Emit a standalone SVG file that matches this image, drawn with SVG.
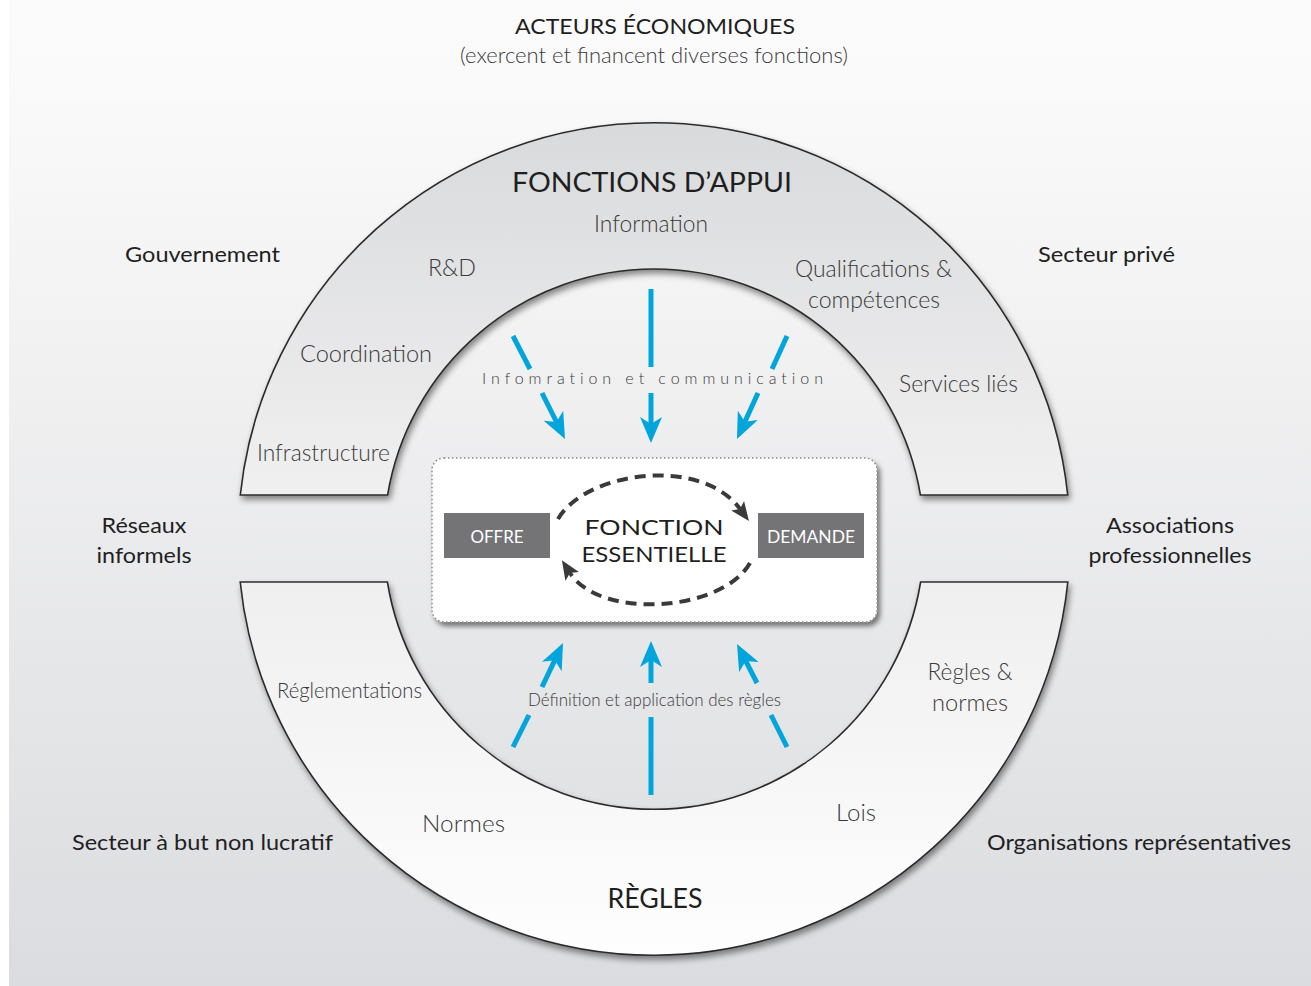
<svg xmlns="http://www.w3.org/2000/svg" width="1311" height="986" viewBox="0 0 1311 986">
  <defs>
    <linearGradient id="bg" x1="0" y1="0" x2="0" y2="1">
      <stop offset="0" stop-color="#fbfbfb"/>
      <stop offset="0.12" stop-color="#f9f9f9"/>
      <stop offset="1" stop-color="#dbdcdf"/>
    </linearGradient>
    <linearGradient id="upperFill" x1="0" y1="123" x2="0" y2="495" gradientUnits="userSpaceOnUse">
      <stop offset="0" stop-color="#d9dadb"/>
      <stop offset="1" stop-color="#f0f0f1"/>
    </linearGradient>
    <linearGradient id="lowerFill" x1="0" y1="582" x2="0" y2="955" gradientUnits="userSpaceOnUse">
      <stop offset="0" stop-color="#efeff0"/>
      <stop offset="1" stop-color="#fefefe"/>
    </linearGradient>
    <filter id="shadow" x="-10%" y="-10%" width="120%" height="130%">
      <feDropShadow dx="2" dy="4" stdDeviation="3" flood-color="#000" flood-opacity="0.45"/>
    </filter>
    <filter id="boxShadow" x="-10%" y="-10%" width="120%" height="130%">
      <feDropShadow dx="3" dy="4" stdDeviation="2.5" flood-color="#000" flood-opacity="0.5"/>
    </filter>
    <marker id="blueHead" markerUnits="userSpaceOnUse" markerWidth="28" markerHeight="22" viewBox="0 0 28 22" refX="7" refY="11" orient="auto">
      <path d="M0,0 L26,11 L0,22 L7,11 Z" fill="#00a5dc"/>
    </marker>
    <marker id="darkHead" markerUnits="userSpaceOnUse" markerWidth="20" markerHeight="18" viewBox="0 0 20 18" refX="4" refY="9" orient="auto">
      <path d="M0,1 L19,9 L0,17 L4,9 Z" fill="#3a3a3a"/>
    </marker>
    <style>
      .band { stroke: #2b2b2b; stroke-width: 1.6; }
      .light { font-family: Lato, "Gill Sans", "Liberation Sans", sans-serif; font-weight: 300; fill: #3a3a3a; }
      .reg { font-family: Lato, "Gill Sans", "Liberation Sans", sans-serif; font-weight: 400; fill: #1f1f1f; }
      .blue { stroke: #00a5dc; stroke-width: 5; fill: none; }
      .dash { stroke: #3a3a3a; stroke-width: 4; fill: none; stroke-dasharray: 11 7; }
    </style>
  </defs>

  <!-- background -->
  <rect x="0" y="0" width="1311" height="986" fill="#ffffff"/>
  <rect x="9" y="0" width="1302" height="986" fill="url(#bg)"/>

  <!-- header -->
  <g id="header">
    <text class="reg" x="655" y="34" font-size="22" text-anchor="middle" textLength="280" lengthAdjust="spacingAndGlyphs">ACTEURS ÉCONOMIQUES</text>
    <text class="light" x="654" y="63" font-size="21" text-anchor="middle" textLength="388" lengthAdjust="spacingAndGlyphs">(exercent et financent diverses fonctions)</text>
  </g>

  <!-- upper band: fonctions d'appui -->
  <g id="fonctions-appui">
    <path class="band" fill="url(#upperFill)" filter="url(#shadow)" d="M240.3,495 A416,416 0 0 1 1067.7,495 L920.4,495 A270,270 0 0 0 387.6,495 Z"/>
    <text class="reg" x="652" y="192" font-size="27" text-anchor="middle" textLength="280" lengthAdjust="spacingAndGlyphs">FONCTIONS D’APPUI</text>
    <text class="light" x="651" y="232" font-size="23" text-anchor="middle" textLength="114" lengthAdjust="spacingAndGlyphs">Information</text>
    <text class="light" x="428" y="276" font-size="23" textLength="48" lengthAdjust="spacingAndGlyphs">R&amp;D</text>
    <text class="light" x="795" y="277" font-size="23" textLength="157" lengthAdjust="spacingAndGlyphs">Qualifications &amp;</text>
    <text class="light" x="808" y="308" font-size="23" textLength="132" lengthAdjust="spacingAndGlyphs">compétences</text>
    <text class="light" x="300" y="362" font-size="23" textLength="132" lengthAdjust="spacingAndGlyphs">Coordination</text>
    <text class="light" x="899" y="392" font-size="23" textLength="119" lengthAdjust="spacingAndGlyphs">Services liés</text>
    <text class="light" x="257" y="461" font-size="23" textLength="133" lengthAdjust="spacingAndGlyphs">Infrastructure</text>
  </g>

  <!-- lower band: règles -->
  <g id="regles">
    <path class="band" fill="url(#lowerFill)" filter="url(#shadow)" d="M240.2,582 L387.4,582 A270,270 0 0 0 920.6,582 L1067.8,582 A416,416 0 0 1 240.2,582 Z"/>
    <text class="light" x="277" y="698" font-size="22" textLength="145" lengthAdjust="spacingAndGlyphs">Réglementations</text>
    <text class="light" x="970" y="680" font-size="23" text-anchor="middle" textLength="85" lengthAdjust="spacingAndGlyphs">Règles &amp;</text>
    <text class="light" x="970" y="711" font-size="23" text-anchor="middle" textLength="76" lengthAdjust="spacingAndGlyphs">normes</text>
    <text class="light" x="422" y="832" font-size="23" textLength="83" lengthAdjust="spacingAndGlyphs">Normes</text>
    <text class="light" x="836" y="821" font-size="23" textLength="40" lengthAdjust="spacingAndGlyphs">Lois</text>
    <text class="reg" x="655" y="908" font-size="27" text-anchor="middle" textLength="95" lengthAdjust="spacingAndGlyphs">RÈGLES</text>
  </g>

  <!-- actor labels -->
  <g id="acteurs">
    <text class="reg" x="125" y="262" font-size="22" textLength="155" lengthAdjust="spacingAndGlyphs">Gouvernement</text>
    <text class="reg" x="1038" y="262" font-size="22" textLength="137" lengthAdjust="spacingAndGlyphs">Secteur privé</text>
    <text class="reg" x="144" y="533" font-size="22" text-anchor="middle" textLength="85" lengthAdjust="spacingAndGlyphs">Réseaux</text>
    <text class="reg" x="144" y="563" font-size="22" text-anchor="middle" textLength="95" lengthAdjust="spacingAndGlyphs">informels</text>
    <text class="reg" x="1170" y="533" font-size="22" text-anchor="middle" textLength="128" lengthAdjust="spacingAndGlyphs">Associations</text>
    <text class="reg" x="1170" y="563" font-size="22" text-anchor="middle" textLength="163" lengthAdjust="spacingAndGlyphs">professionnelles</text>
    <text class="reg" x="72" y="850" font-size="22" textLength="261" lengthAdjust="spacingAndGlyphs">Secteur à but non lucratif</text>
    <text class="reg" x="987" y="850" font-size="22" textLength="304" lengthAdjust="spacingAndGlyphs">Organisations représentatives</text>
  </g>

  <!-- flow labels -->
  <g id="flow-labels">
    <text class="light" x="482" y="384" font-size="16" fill="#333" letter-spacing="4" textLength="345" lengthAdjust="spacing">Infomration et communication</text>
    <text class="light" x="528" y="706" font-size="17" textLength="253" lengthAdjust="spacingAndGlyphs">Définition et application des règles</text>
  </g>

  <!-- connectors -->
  <g id="connectors">
    <line class="blue" x1="513" y1="336" x2="530" y2="369"/>
    <line class="blue" x1="542" y1="393" x2="556.5" y2="422" marker-end="url(#blueHead)"/>
    <line class="blue" x1="651" y1="289" x2="651" y2="367"/>
    <line class="blue" x1="651" y1="393" x2="651" y2="424" marker-end="url(#blueHead)"/>
    <line class="blue" x1="787" y1="336" x2="772" y2="369"/>
    <line class="blue" x1="758" y1="393" x2="744.9" y2="421.7" marker-end="url(#blueHead)"/>

    <line class="blue" x1="513" y1="747" x2="529" y2="715"/>
    <line class="blue" x1="542" y1="687" x2="554.8" y2="660.2" marker-end="url(#blueHead)"/>
    <line class="blue" x1="651" y1="795" x2="651" y2="717"/>
    <line class="blue" x1="651" y1="683" x2="651" y2="660" marker-end="url(#blueHead)"/>
    <line class="blue" x1="787" y1="747" x2="771" y2="715"/>
    <line class="blue" x1="757" y1="683" x2="745.7" y2="660.9" marker-end="url(#blueHead)"/>
  </g>

  <!-- central function -->
  <g id="fonction-essentielle">
    <rect x="432" y="458" width="445" height="164" rx="12" fill="#ffffff" stroke="#8a8a8a" stroke-width="1.5" stroke-dasharray="1.5 2.5" filter="url(#boxShadow)"/>
    <text class="reg" x="654" y="535" font-size="22" text-anchor="middle" textLength="139" lengthAdjust="spacingAndGlyphs">FONCTION</text>
    <text class="reg" x="654" y="562" font-size="22" text-anchor="middle" textLength="145" lengthAdjust="spacingAndGlyphs">ESSENTIELLE</text>
  </g>
  <g id="offre">
    <rect x="444" y="513" width="106" height="45" fill="#747476"/>
    <text x="497" y="543" font-family="Lato, 'Gill Sans', 'Liberation Sans', sans-serif" font-size="17" fill="#ffffff" text-anchor="middle" textLength="53" lengthAdjust="spacingAndGlyphs">OFFRE</text>
  </g>
  <g id="demande">
    <rect x="758" y="513" width="106" height="45" fill="#747476"/>
    <text x="811" y="543" font-family="Lato, 'Gill Sans', 'Liberation Sans', sans-serif" font-size="17" fill="#ffffff" text-anchor="middle" textLength="88" lengthAdjust="spacingAndGlyphs">DEMANDE</text>
  </g>
  <g id="cycle">
    <path class="dash" d="M558,519 C585,472 700,455 740,509" marker-end="url(#darkHead)"/>
    <path class="dash" d="M750,563 C722,612 600,620 570,573" marker-end="url(#darkHead)"/>
  </g>
</svg>
